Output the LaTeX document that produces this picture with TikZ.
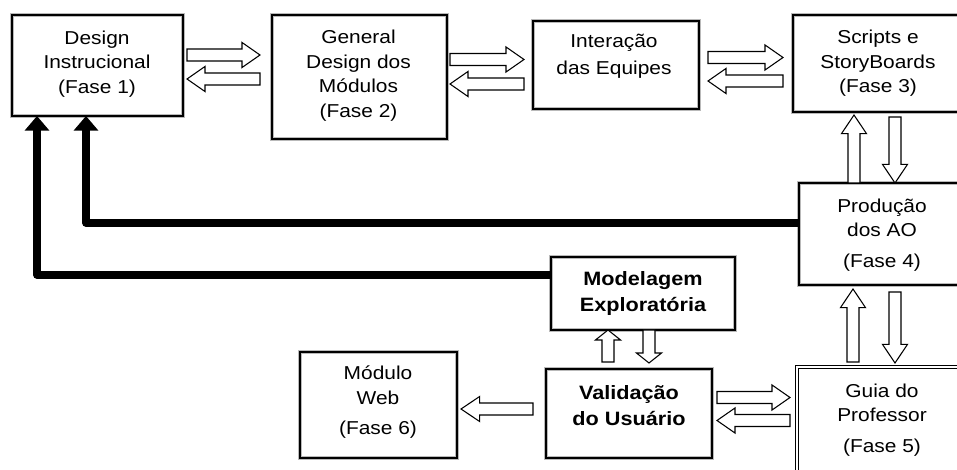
\documentclass[tikz,border=0pt]{standalone}
\usepackage{fontspec}
\setmainfont{Liberation Sans}[FakeStretch=1.12]
\usetikzlibrary{calc,arrows.meta,fit}
\tikzset{
  box/.style={draw=gray!55, double=black, line width=0.6pt, double distance=1.6pt, fill=white, inner sep=0pt, outer sep=0pt},
  guiabox/.style={preaction={draw=gray!55, line width=3.6pt}, draw=black, double=white, line width=0.9pt, double distance=0.9pt, fill=white, inner sep=0pt, outer sep=0pt},
  txt/.style={align=center, inner sep=0pt, font=\fontsize{14pt}{18.4pt}\selectfont},
  btxt/.style={align=center, inner sep=0pt, font=\fontsize{14.5pt}{20pt}\selectfont\bfseries},
  fb/.style={line width=5.5pt, line join=round, -{Triangle[length=11pt,width=18pt]}},
  hollow/.style={draw=black, fill=white, line width=0.8pt, line join=miter, to path={
    ($(\tikztostart)!4.5pt!90:(\tikztotarget)$)
    -- ($($(\tikztotarget)!#1!(\tikztostart)$)!4.5pt!90:(\tikztotarget)$)
    -- ($($(\tikztotarget)!#1!(\tikztostart)$)!9.4pt!90:(\tikztotarget)$)
    -- (\tikztotarget)
    -- ($($(\tikztotarget)!#1!(\tikztostart)$)!9.4pt!-90:(\tikztotarget)$)
    -- ($($(\tikztotarget)!#1!(\tikztostart)$)!4.5pt!-90:(\tikztotarget)$)
    -- ($(\tikztostart)!4.5pt!-90:(\tikztotarget)$) -- cycle}},
  hollow/.default=13.5pt
}
\begin{document}
\begin{tikzpicture}[x=0.75pt,y=-0.75pt]
\useasboundingbox (0,0) rectangle (957,470);
\clip (0,0) rectangle (957,470);

% boxes
\node[box, fit={(12,15) (183,116)}] (di) {};
\node[box, fit={(272,15) (447,139)}] (gd) {};
\node[box, fit={(533,21) (699,109)}] (int) {};
\node[box, fit={(793,15) (965,112)}] (scr) {};
\node[box, fit={(799,183) (965,285)}] (prod) {};
\node[box, fit={(551,257) (735,330)}] (mod) {};
\node[box, fit={(546,369) (712,458)}] (val) {};
\node[guiabox, fit={(797,367) (965,480)}] (guia) {};
\node[box, fit={(300,352) (457,458)}] (web) {};

% texts
\node[txt] (di-t) at (97,64) {Design\\Instrucional\\(Fase 1)};
\node[txt] (gd-t) at (358.5,75.5) {General\\Design dos\\Módulos\\(Fase 2)};
\node[txt] (int-t) at (614,56.5) {Interação\\[1.6pt]das Equipes};
\node[txt] (scr-t) at (878,63.5) {Scripts e\\StoryBoards\\(Fase 3)};
\node[txt] (prod-t) at (882,235) {Produção\\dos AO\\[4.5pt](Fase 4)};
\node[txt] (guia-t) at (882,420) {Guia do\\Professor\\[4.5pt](Fase 5)};
\node[txt] (web-t) at (378,402.5) {Módulo\\Web\\[4.5pt](Fase 6)};
\node[btxt] (mod-t) at (643,293.5) {Modelagem\\Exploratória};
\node[btxt] (val-t) at (629,405.5) {Validação\\do Usuário};

% end points of hollow arrows
\coordinate (a1s) at ($(di.east |- 0,55)+(4,0)$);
\coordinate (a1t) at ($(gd.west |- 0,55)+(-12,0)$);
\coordinate (a2s) at ($(gd.west |- 0,79)+(-12,0)$);
\coordinate (a2t) at ($(di.east |- 0,79)+(4,0)$);
\coordinate (b1s) at ($(gd.east |- 0,59.5)+(3,0)$);
\coordinate (b1t) at ($(int.west |- 0,59.5)+(-9,0)$);
\coordinate (b2s) at ($(int.west |- 0,84)+(-9,0)$);
\coordinate (b2t) at ($(gd.east |- 0,84)+(3,0)$);
\coordinate (c1s) at ($(int.east |- 0,57.5)+(9,0)$);
\coordinate (c1t) at ($(scr.west |- 0,57.5)+(-10,0)$);
\coordinate (c2s) at ($(scr.west |- 0,81)+(-10,0)$);
\coordinate (c2t) at ($(int.east |- 0,81)+(9,0)$);
\coordinate (d1s) at (854,0 |- prod.north);
\coordinate (d1t) at ($(854,0 |- scr.south)+(0,3)$);
\coordinate (d2s) at ($(895,0 |- scr.south)+(0,5)$);
\coordinate (d2t) at (895,0 |- prod.north);
\coordinate (e1s) at ($(853,0 |- guia.north)+(0,-5)$);
\coordinate (e1t) at ($(853,0 |- prod.south)+(0,4)$);
\coordinate (e2s) at ($(895,0 |- prod.south)+(0,7)$);
\coordinate (e2t) at ($(895,0 |- guia.north)+(0,-4)$);
\coordinate (f1s) at ($(608,0 |- val.north)+(0,-7)$);
\coordinate (f1t) at (608,0 |- mod.south);
\coordinate (f2s) at (649,0 |- mod.south);
\coordinate (f2t) at ($(649,0 |- val.north)+(0,-6)$);
\coordinate (g1s) at ($(val.east |- 0,397.5)+(5,0)$);
\coordinate (g1t) at ($(guia.west |- 0,397.5)+(-7,0)$);
\coordinate (g2s) at ($(guia.west |- 0,420.5)+(-7,0)$);
\coordinate (g2t) at ($(val.east |- 0,420.5)+(5,0)$);
\coordinate (hs) at ($(val.west |- 0,409)+(-13,0)$);
\coordinate (ht) at ($(web.east |- 0,409)+(4,0)$);

% hollow arrows
\draw[hollow] (a1s) to (a1t);
\draw[hollow] (a2s) to (a2t);
\draw[hollow] (b1s) to (b1t);
\draw[hollow] (b2s) to (b2t);
\draw[hollow] (c1s) to (c1t);
\draw[hollow] (c2s) to (c2t);
\draw[hollow=14pt] (d1s) to (d1t);
\draw[hollow=14pt] (d2s) to (d2t);
\draw[hollow=14pt] (e1s) to (e1t);
\draw[hollow=14pt] (e2s) to (e2t);
\draw[hollow=7.5pt] (f1s) to (f1t);
\draw[hollow=7.5pt] (f2s) to (f2t);
\draw[hollow] (g1s) to (g1t);
\draw[hollow] (g2s) to (g2t);
\draw[hollow=14pt] (hs) to (ht);

% thick black feedback arrows
\draw[fb] (mod.west |- 0,275) -| ($(di.south west)+(25,0)$);
\draw[fb] (prod.west |- 0,223) -| ($(di.south west)+(74,0)$);
\end{tikzpicture}
\end{document}
